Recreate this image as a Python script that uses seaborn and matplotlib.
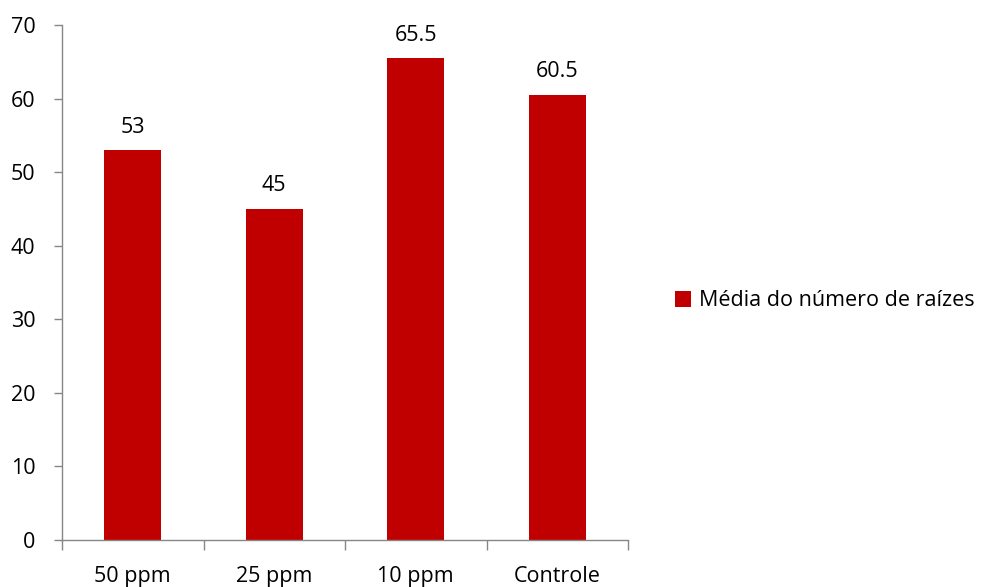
import matplotlib
matplotlib.use("Agg")
import matplotlib.pyplot as plt
import seaborn as sns
import pandas as pd
from matplotlib.patches import Patch
from matplotlib.ticker import FixedLocator

categories = ["50 ppm", "25 ppm", "10 ppm", "Controle"]
values = [53, 45, 65.5, 60.5]
value_labels = ["53", "45", "65.5", "60.5"]
series_name = "Média do número de raízes"
y_ticks = [0, 10, 20, 30, 40, 50, 60, 70]

sns.set_theme(style="white")
plt.rcParams["font.family"] = ["Open Sans", "DejaVu Sans"]
plt.rcParams["text.color"] = "black"

bar_color = "#C00000"
axis_color = "#868686"
fs = 15.5

df = pd.DataFrame({"categoria": categories, "valor": values})

fig = plt.figure(figsize=(9.89, 5.87), dpi=100)
ax = fig.add_axes([62 / 989, 1 - 540 / 587, (628 - 62) / 989, (540 - 25) / 587])

sns.barplot(data=df, x="categoria", y="valor", color=bar_color, saturation=1,
            width=0.4, linewidth=0, ax=ax)

ax.set_xlim(-0.5, len(categories) - 0.5)
ax.set_ylim(0, 70)
ax.set_yticks(y_ticks)
ax.set_xlabel("")
ax.set_ylabel("")

for s in ["top", "right"]:
    ax.spines[s].set_visible(False)
for s in ["left", "bottom"]:
    ax.spines[s].set_color(axis_color)
    ax.spines[s].set_linewidth(1.0)

ax.tick_params(axis="y", which="major", direction="out", length=6, width=1,
               color=axis_color, labelsize=fs, labelcolor="black", left=True, pad=13)
ax.tick_params(axis="x", which="major", length=0, labelsize=fs,
               labelcolor="black", pad=19)
ax.xaxis.set_minor_locator(FixedLocator([i - 0.5 for i in range(len(categories) + 1)]))
ax.tick_params(axis="x", which="minor", direction="out", length=7, width=1,
               color=axis_color, bottom=True)

for i, (v, lab) in enumerate(zip(values, value_labels)):
    ax.annotate(lab, xy=(i, v), xytext=(0, 9), textcoords="offset points",
                ha="center", va="bottom", fontsize=fs, color="black")

handle = Patch(facecolor=bar_color, edgecolor="none")
fig.legend([handle], [series_name], loc="center left",
           bbox_to_anchor=(666 / 989, 1 - 301 / 587), frameon=False,
           fontsize=fs, labelcolor="black", handlelength=0.75, handleheight=0.75,
           handletextpad=0.4, borderaxespad=0)

fig.savefig("out.png", dpi=100)
